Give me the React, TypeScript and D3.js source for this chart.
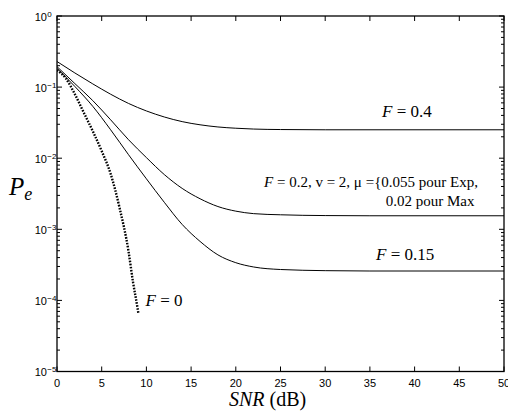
import React from "react";
import * as d3 from "d3";

// ---- data ----
const snrF04 = [0, 2, 4, 6, 8, 10, 12, 14, 16, 18, 20, 22, 25, 30, 50];
const peF04 = [0.229, 0.158, 0.111, 0.0794, 0.0589, 0.0462, 0.038, 0.0327, 0.0295, 0.0275, 0.0264, 0.0257, 0.0253, 0.0251, 0.0251];

const snrF02 = [0, 2, 4, 6, 8, 10, 12, 14, 16, 18, 20, 22, 25, 30, 35, 50];
const peF02 = [0.194, 0.112, 0.0646, 0.0347, 0.0182, 0.0102, 0.00589, 0.00376, 0.00269, 0.00209, 0.0018, 0.00166, 0.0016, 0.00156, 0.00155, 0.00155];

const snrF015 = [0, 2, 4, 6, 8, 10, 12, 14, 16, 18, 20, 22, 25, 30, 35, 50];
const peF015 = [0.184, 0.102, 0.0537, 0.0251, 0.0112, 0.00513, 0.0024, 0.00117, 0.000676, 0.000437, 0.000339, 0.000295, 0.000272, 0.000262, 0.000259, 0.000259];

const snrF0 = [0, 1, 2, 3, 4, 5, 6, 7, 8, 8.5, 9, 9.1];
const peF0 = [0.174, 0.132, 0.0794, 0.0437, 0.024, 0.0126, 0.00603, 0.002, 0.00049, 0.000182, 7.94e-5, 6.61e-5];

const xTicks = [0, 5, 10, 15, 20, 25, 30, 35, 40, 45, 50];
const yDecades = [0, -1, -2, -3, -4, -5];

// ---- layout ----
const W = 508, H = 420;
const L = 57, R = 504, T = 16, B = 371.5;

const serif = '"Liberation Serif", "Times New Roman", serif';
const sans = '"Liberation Sans", Arial, sans-serif';

export default function App() {
  const x = d3.scaleLinear().domain([0, 50]).range([L, R]);
  const y = d3.scaleLog().domain([1e-5, 1]).range([B, T]);

  const line = d3
    .line<[number, number]>()
    .x((d) => x(d[0]))
    .y((d) => y(d[1]))
    .curve(d3.curveMonotoneX);

  const zip = (a: number[], b: number[]) => a.map((v, i) => [v, b[i]] as [number, number]);

  const minor: number[] = [];
  for (let e = -5; e < 0; e++) for (let m = 2; m <= 9; m++) minor.push(m * Math.pow(10, e));

  return (
    <svg width={W} height={H} style={{ position: "absolute", left: 0, top: 0, background: "#fff" }}>
      <defs>
        <clipPath id="plot">
          <rect x={L} y={T} width={R - L} height={B - T} />
        </clipPath>
      </defs>
      <rect x={0} y={0} width={W} height={H} fill="#fff" />

      {/* curves */}
      <g clipPath="url(#plot)" fill="none" stroke="#000">
        <path d={line(zip(snrF04, peF04)) || ""} strokeWidth={1} />
        <path d={line(zip(snrF02, peF02)) || ""} strokeWidth={1} />
        <path d={line(zip(snrF015, peF015)) || ""} strokeWidth={1} />
        <path d={line(zip(snrF0, peF0)) || ""} strokeWidth={2.4} strokeDasharray="1.6 1.4" />
      </g>

      {/* ticks */}
      <g stroke="#000" strokeWidth={1}>
        {xTicks.map((t) => (
          <g key={"xt" + t}>
            <line x1={x(t)} x2={x(t)} y1={B} y2={B - 5} />
            <line x1={x(t)} x2={x(t)} y1={T} y2={T + 5} />
          </g>
        ))}
        {yDecades.map((e) => (
          <g key={"yt" + e}>
            <line x1={L} x2={L + 5} y1={y(Math.pow(10, e))} y2={y(Math.pow(10, e))} />
            <line x1={R} x2={R - 5} y1={y(Math.pow(10, e))} y2={y(Math.pow(10, e))} />
          </g>
        ))}
        {minor.map((v, i) => (
          <g key={"ym" + i}>
            <line x1={L} x2={L + 3} y1={y(v)} y2={y(v)} />
            <line x1={R} x2={R - 3} y1={y(v)} y2={y(v)} />
          </g>
        ))}
      </g>

      {/* box */}
      <rect x={L} y={T} width={R - L} height={B - T} fill="none" stroke="#000" strokeWidth={1.3} />

      {/* x tick labels */}
      <g fontFamily={sans} fontSize={11} fill="#000" textAnchor="middle">
        {xTicks.map((t) => (
          <text key={"xl" + t} x={x(t)} y={387}>
            {t}
          </text>
        ))}
      </g>

      {/* y tick labels */}
      <g fontFamily={sans} fill="#000">
        {yDecades.map((e) => {
          const yy = y(Math.pow(10, e));
          return (
            <g key={"yl" + e}>
              <text x={47} y={yy + 4.5} fontSize={11} textAnchor="end">
                10
              </text>
              <text x={47.3} y={yy + 0.5} fontSize={8} textAnchor="start">
                {e === 0 ? "0" : "\u2212" + Math.abs(e)}
              </text>
            </g>
          );
        })}
      </g>

      {/* axis titles */}
      <text x={229} y={406} fontFamily={serif} fontSize={20} fill="#000">
        <tspan fontStyle="italic">SNR</tspan> (dB)
      </text>
      <text x={9} y={195} fontFamily={serif} fontSize={25} fontStyle="italic" fill="#000">
        P<tspan fontSize={18} dy={5}>e</tspan>
      </text>

      {/* annotations */}
      <g fontFamily={serif} fontSize={17} fill="#000">
        <text x={382} y={117}>
          <tspan fontStyle="italic">F</tspan> = 0.4
        </text>
        <text x={478} y={187} textAnchor="end" fontSize={15}>
          <tspan fontStyle="italic">F</tspan> = 0.2, v = 2, μ ={"{"}0.055 pour Exp,
        </text>
        <text x={474.5} y={205.5} textAnchor="end" fontSize={15}>
          0.02 pour Max
        </text>
        <text x={376} y={260}>
          <tspan fontStyle="italic">F</tspan> = 0.15
        </text>
        <text x={145.5} y={305.5}>
          <tspan fontStyle="italic">F</tspan> = 0
        </text>
      </g>
    </svg>
  );
}
